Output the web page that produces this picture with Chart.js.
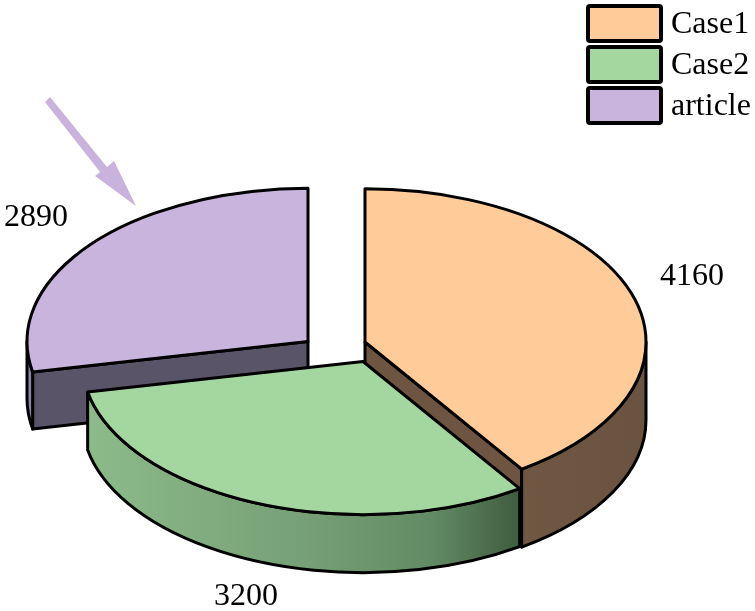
<!DOCTYPE html>
<html>
<head>
<meta charset="utf-8">
<script src="https://cdn.jsdelivr.net/npm/chart.js@4"></script>
<style>
  html, body { margin: 0; padding: 0; background: #ffffff; }
  canvas { display: block; }
</style>
</head>
<body>
<canvas id="pieChart" width="755" height="611"></canvas>
<script>
const categories = ["Case1", "Case2", "article"];
const seriesValues = [4160, 3200, 2890];

const sliceColors = ["#FFCB98", "#A4D6A0", "#C8B4DC"];

// everything the 3d look needs, slices are still taken from the arc elements
const look3d = {
  squash: 0.545,
  order: [2, 0, 1],
  shift: [[-12.5, 36.5], [-14.5, 56], [-69.5, 36]],
  depth: [78, 58, 57],
  cutColor: ["#6D5541", null, "#5A5468"],
  wallStops: [
    [[0, "#6F5743"], [1, "#6A5340"]],
    [[0, "#8CBB8A"], [0.5, "#76A076"], [0.8, "#628A64"], [1, "#3F5C40"]],
    [[0, "#8E8BAC"], [1, "#85829F"]],
  ],
  lineWidth: 3,
};

const valueLabels = [[692, 277], [246, 597], [36, 218]];
const legendBox = { x: 588, y: 6, w: 73, h: 35, pitch: 41, textX: 671 };
const arrowColor = "#C9B3DC";
const arrowPoints = [[45, 102], [50, 97], [107, 167], [114, 161], [136, 206], [95, 176], [100, 172]];

const serifFont = "32px 'Liberation Serif', 'Times New Roman', serif";

function drawSlice(ctx, arc, i) {
  const cx = arc.x + look3d.shift[i][0];
  const cy = arc.y + look3d.shift[i][1];
  const R = arc.outerRadius;
  const r = R * look3d.squash;
  const d = look3d.depth[i];
  const start = arc.startAngle;
  const end = arc.endAngle;

  ctx.strokeStyle = "#000000";
  ctx.lineWidth = look3d.lineWidth;
  ctx.lineJoin = "round";

  // flat cut faces turned towards the viewer
  [[start, -Math.cos(start)], [end, Math.cos(end)]].forEach(([a, facing]) => {
    if (facing < 0.01) return;
    const ex = cx + R * Math.cos(a);
    const ey = cy + r * Math.sin(a);
    ctx.beginPath();
    ctx.moveTo(cx, cy);
    ctx.lineTo(ex, ey);
    ctx.lineTo(ex, ey + d);
    ctx.lineTo(cx, cy + d);
    ctx.closePath();
    ctx.fillStyle = look3d.cutColor[i];
    ctx.fill();
    ctx.stroke();
  });

  // outer wall, only the part on the front half
  const a0 = Math.max(start, 0);
  const a1 = Math.min(end, Math.PI);
  if (a1 > a0) {
    const x0 = cx + R * Math.cos(a1);
    const x1 = cx + R * Math.cos(a0);
    const grad = ctx.createLinearGradient(x0, 0, x1, 0);
    look3d.wallStops[i].forEach(s => grad.addColorStop(s[0], s[1]));
    ctx.beginPath();
    ctx.ellipse(cx, cy, R, r, 0, a0, a1);
    ctx.ellipse(cx, cy + d, R, r, 0, a1, a0, true);
    ctx.closePath();
    ctx.fillStyle = grad;
    ctx.fill();
    ctx.stroke();
  }

  // top face
  ctx.beginPath();
  ctx.moveTo(cx, cy);
  ctx.ellipse(cx, cy, R, r, 0, start, end);
  ctx.closePath();
  ctx.fillStyle = arc.options.backgroundColor;
  ctx.fill();
  ctx.stroke();
}

const pie3d = {
  id: "pie3d",
  beforeDatasetDraw(chart) {
    const ctx = chart.ctx;
    const arcs = chart.getDatasetMeta(0).data;
    ctx.save();
    look3d.order.forEach(i => drawSlice(ctx, arcs[i], i));
    ctx.restore();
    return false;
  },
  afterDraw(chart) {
    const ctx = chart.ctx;
    ctx.save();

    // value labels
    ctx.font = serifFont;
    ctx.fillStyle = "#000000";
    ctx.textAlign = "center";
    ctx.textBaseline = "middle";
    seriesValues.forEach((v, i) => {
      ctx.fillText(String(v), valueLabels[i][0], valueLabels[i][1]);
    });

    // arrow pointing at the article slice
    ctx.fillStyle = arrowColor;
    ctx.beginPath();
    arrowPoints.forEach((p, i) => (i ? ctx.lineTo(p[0], p[1]) : ctx.moveTo(p[0], p[1])));
    ctx.closePath();
    ctx.fill();

    // legend
    ctx.textAlign = "left";
    categories.forEach((name, i) => {
      const y = legendBox.y + i * legendBox.pitch;
      ctx.beginPath();
      ctx.roundRect(legendBox.x, y, legendBox.w, legendBox.h, 2);
      ctx.fillStyle = sliceColors[i];
      ctx.fill();
      ctx.lineWidth = 4;
      ctx.strokeStyle = "#000000";
      ctx.stroke();
      ctx.fillStyle = "#000000";
      ctx.fillText(name, legendBox.textX, y + legendBox.h / 2 + 1);
    });
    ctx.restore();
  },
};

new Chart(document.getElementById("pieChart").getContext("2d"), {
  type: "pie",
  data: {
    labels: categories,
    datasets: [{
      data: seriesValues,
      backgroundColor: sliceColors,
      borderWidth: 0,
    }],
  },
  options: {
    responsive: false,
    animation: false,
    radius: 281,
    plugins: {
      legend: { display: false },
      tooltip: { enabled: false },
    },
  },
  plugins: [pie3d],
});
</script>
</body>
</html>
